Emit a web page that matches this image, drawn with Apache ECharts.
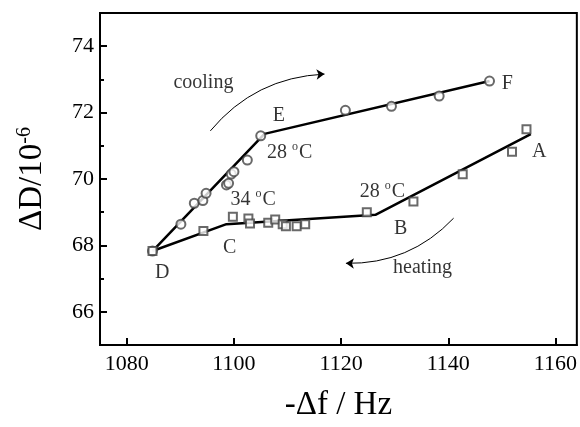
<!DOCTYPE html>
<html>
<head>
<meta charset="utf-8">
<script src="https://cdn.jsdelivr.net/npm/echarts@6/dist/echarts.min.js"></script>
<style>
  html, body { margin: 0; padding: 0; background: #fff; }
  #chart { width: 580px; height: 427px; }
</style>
</head>
<body>
<div id="chart"></div>
<script>
// 降温过程（圆圈）测量点：[-Δf (Hz), ΔD (1e-6)]
const coolingPts = [
  [1084.8, 67.83], [1090.1, 68.64], [1092.6, 69.27], [1094.2, 69.35], [1094.8, 69.57],
  [1098.6, 69.82], [1099.0, 69.87], [1099.5, 70.15], [1100.0, 70.22], [1102.5, 70.57],
  [1105.0, 71.30], [1120.8, 72.07], [1129.4, 72.19], [1138.3, 72.50], [1147.7, 72.95]
];
// 升温过程（方块）测量点
const heatingPts = [
  [1084.8, 67.83], [1094.3, 68.43], [1099.8, 68.86], [1102.7, 68.81], [1103.0, 68.66],
  [1106.4, 68.68], [1107.7, 68.78], [1109.1, 68.64], [1109.7, 68.58], [1111.7, 68.58],
  [1113.3, 68.64], [1124.8, 69.00], [1133.5, 69.32], [1142.7, 70.14], [1151.9, 70.82],
  [1154.6, 71.50]
];
// 折线拟合段 D-E-F / A-B-C-D
const coolingFit = [[1084.8, 67.83], [1105.7, 71.36], [1147.7, 72.95]];
const heatingFit = [[1155.4, 71.35], [1126.4, 68.92], [1098.6, 68.64], [1084.8, 67.83]];

const xTicks = [1080, 1100, 1120, 1140, 1160];
const yTicks = [66, 68, 70, 72, 74];
const yMinorTicks = [67, 69, 71, 73];

// 图中文字标注（位置用数据坐标）
const notes = [
  { text: 'cooling', at: [1094.3, 72.89] },
  { text: 'E', at: [1108.4, 71.9] },
  { text: 'F', at: [1151.0, 72.86] },
  { text: 'A', at: [1157.0, 70.81] },
  { text: 'B', at: [1131.1, 68.49] },
  { text: 'C', at: [1099.2, 67.92] },
  { text: 'D', at: [1086.6, 67.17] },
  { text: 'heating', at: [1135.2, 67.32] },
  { text: '{n|28 }{s|o}{n|C}', at: [1110.4, 70.78] },
  { text: '{n|34 }{s|o}{n|C}', at: [1103.6, 69.37] },
  { text: '{n|28 }{s|o}{n|C}', at: [1127.7, 69.62] }
];
// 弯曲箭头：起点、终点
const coolingArrow = [[1095.6, 71.45], [1116.9, 73.16]];
const heatingArrow = [[1141.0, 68.82], [1120.9, 67.46]];

const FONT = '"Liberation Serif", "DejaVu Serif", serif';
const chart = echarts.init(document.getElementById('chart'));

const tickLabel = { color: '#000', fontFamily: FONT, fontSize: 22, formatter: v => String(v) };

chart.setOption({
  animation: false,
  backgroundColor: '#fff',
  grid: { left: 100, right: 3, top: 13, bottom: 82, show: true, borderColor: '#000', borderWidth: 2 },
  xAxis: {
    type: 'value', min: 1075, max: 1164,
    name: '-Δf / Hz', nameLocation: 'middle', nameGap: 44,
    nameTextStyle: { color: '#000', fontFamily: FONT, fontSize: 33 },
    axisLine: { lineStyle: { color: '#000', width: 2 } },
    axisTick: { inside: true, length: 7, lineStyle: { width: 2, color: '#000' }, customValues: xTicks },
    axisLabel: Object.assign({ margin: 8, customValues: xTicks }, tickLabel),
    splitLine: { show: false }
  },
  yAxis: [{
    type: 'value', min: 65, max: 75,
    name: '{a|ΔD/10}{b|-6}', nameLocation: 'middle', nameGap: 50,
    nameTextStyle: {
      rich: {
        a: { color: '#000', fontFamily: FONT, fontSize: 33 },
        b: { color: '#000', fontFamily: FONT, fontSize: 20, padding: [0, 0, 15, 0] }
      }
    },
    axisLine: { lineStyle: { color: '#000', width: 2 } },
    axisTick: { inside: true, length: 7, lineStyle: { width: 2, color: '#000' }, customValues: yTicks },
    axisLabel: Object.assign({ margin: 6, customValues: yTicks }, tickLabel),
    splitLine: { show: false }
  }, {
    type: 'value', min: 65, max: 75, position: 'left',
    axisLine: { show: false },
    axisTick: { inside: true, length: 4, lineStyle: { width: 2, color: '#000' }, customValues: yMinorTicks },
    axisLabel: { show: false },
    splitLine: { show: false }
  }],
  series: [
    {
      name: 'cooling fit', type: 'line', data: coolingFit, showSymbol: false,
      lineStyle: { color: '#000', width: 2.5 }, z: 3
    },
    {
      name: 'heating fit', type: 'line', data: heatingFit, showSymbol: false,
      lineStyle: { color: '#000', width: 2.5 }, z: 3
    },
    {
      name: 'cooling', type: 'scatter', data: coolingPts, symbol: 'emptyCircle', symbolSize: 9,
      itemStyle: { color: '#444', borderColor: '#444', borderWidth: 1 }, z: 4
    },
    {
      name: 'heating', type: 'scatter', data: heatingPts, symbol: 'emptyRect', symbolSize: 8,
      itemStyle: { color: '#444', borderColor: '#444', borderWidth: 1 }, z: 4
    },
    {
      name: 'notes', type: 'scatter', symbolSize: 1, itemStyle: { color: 'rgba(0,0,0,0)' },
      data: notes.map(n => ({ value: n.at, label: { formatter: n.text } })),
      label: {
        show: true, position: 'inside', color: '#000', fontFamily: FONT, fontSize: 20,
        rich: {
          n: { color: '#000', fontFamily: FONT, fontSize: 20 },
          s: { color: '#000', fontFamily: FONT, fontSize: 12, padding: [0, 1, 12, 0] }
        }
      },
      z: 5
    },
    {
      // 弯曲箭头（lines 系列支持 curveness）
      name: 'arrows', type: 'lines', coordinateSystem: 'cartesian2d', silent: true,
      symbol: ['none', 'arrow'], symbolSize: 8,
      lineStyle: { color: '#000', width: 1, opacity: 1, curveness: 0.22 },
      data: [{ coords: coolingArrow }, { coords: heatingArrow }],
      z: 5
    }
  ]
});
</script>
</body>
</html>
